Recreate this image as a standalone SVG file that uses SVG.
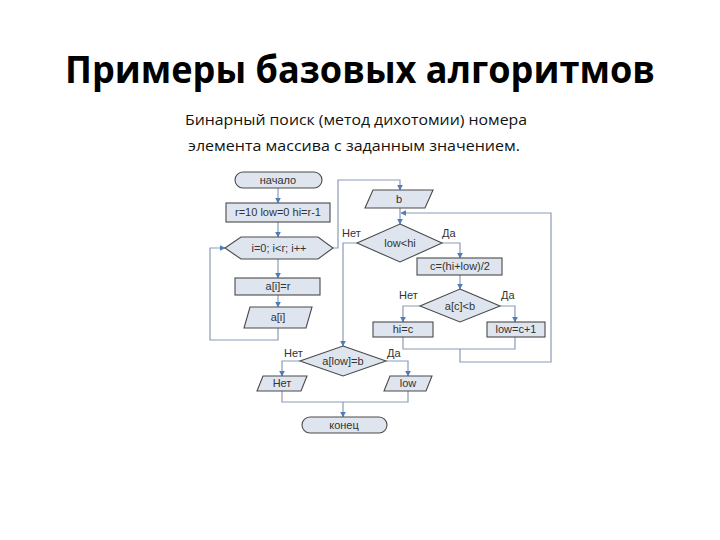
<svg xmlns="http://www.w3.org/2000/svg" width="720" height="540" viewBox="0 0 720 540">
<style>
.title{font-family:"Open Sans","DejaVu Sans",sans-serif;font-weight:bold;font-size:37px;fill:#000}
.sub{font-family:"Open Sans","DejaVu Sans",sans-serif;font-size:15px;fill:#111}
.n{fill:#dfe5ef;stroke:#4a4a4a;stroke-width:1.1}
.t{font-family:"Liberation Sans",Arial,sans-serif;font-size:11px;fill:#333;text-anchor:middle}
.lb{font-family:"Liberation Sans",Arial,sans-serif;font-size:11px;fill:#333}
.c{fill:none;stroke:#8a9bb8;stroke-width:1.2}
</style>
<defs>
<marker id="a" viewBox="0 0 10 10" refX="9" refY="5" markerWidth="6" markerHeight="6" orient="auto" markerUnits="userSpaceOnUse">
<path d="M0,0 L10,5 L0,10 z" fill="#4f7cbd"/>
</marker>
</defs>
<rect width="720" height="540" fill="#fff"/>
<text class="title" x="360" y="83" text-anchor="middle" textLength="590" lengthAdjust="spacingAndGlyphs">Примеры базовых алгоритмов</text>
<text class="sub" x="185" y="125" textLength="342" lengthAdjust="spacingAndGlyphs">Бинарный поиск (метод дихотомии) номера</text>
<text class="sub" x="188" y="151" textLength="332" lengthAdjust="spacingAndGlyphs">элемента массива с заданным значением.</text>

<g id="connectors">
<path class="c" d="M278,188 V203" marker-end="url(#a)"/>
<path class="c" d="M278,222 V237" marker-end="url(#a)"/>
<path class="c" d="M278,259 V278" marker-end="url(#a)"/>
<path class="c" d="M278,295 V307" marker-end="url(#a)"/>
<path class="c" d="M278,328 V340 H210 V248 H225" marker-end="url(#a)"/>
<path class="c" d="M333,248 H338 V180 H400 V190" marker-end="url(#a)"/>
<path class="c" d="M400,208 V224" marker-end="url(#a)"/>
<path class="c" d="M442,243 H460 V258" marker-end="url(#a)"/>
<path class="c" d="M357,243 H343 V346" marker-end="url(#a)"/>
<path class="c" d="M460,275 V289" marker-end="url(#a)"/>
<path class="c" d="M420,306 H403 V322" marker-end="url(#a)"/>
<path class="c" d="M500,306 H515 V322" marker-end="url(#a)"/>
<path class="c" d="M403,337 V349 H515 V337"/>
<path class="c" d="M460,349 V362 H551 V213 H401" marker-end="url(#a)"/>
<path class="c" d="M300,361 H282 V376" marker-end="url(#a)"/>
<path class="c" d="M386,361 H408 V376" marker-end="url(#a)"/>
<path class="c" d="M282,391 V402 H408 V391"/>
<path class="c" d="M343,402 V417" marker-end="url(#a)"/>
</g>

<g id="start"><rect class="n" x="235" y="172" width="87" height="16" rx="8"/><text class="t" x="278" y="184">начало</text></g>
<g id="init"><rect class="n" x="226" y="203" width="104" height="19"/><text class="t" x="278" y="216">r=10 low=0 hi=r-1</text></g>
<g id="loop"><polygon class="n" points="225,248 241,237 318,237 333,248 318,259 241,259"/><text class="t" x="279" y="252">i=0; i&lt;r; i++</text></g>
<g id="assign"><rect class="n" x="235" y="278" width="85" height="17"/><text class="t" x="278" y="290">a[i]=r</text></g>
<g id="out-ai"><polygon class="n" points="250,307 312,307 306,328 244,328"/><text class="t" x="278" y="321">a[i]</text></g>
<g id="in-b"><polygon class="n" points="373,190 433,190 425,208 365,208"/><text class="t" x="399" y="203">b</text></g>
<g id="cond1"><polygon class="n" points="400,224 442,243 400,262 357,243"/><text class="t" x="400" y="247">low&lt;hi</text></g>
<text class="lb" x="342" y="237">Нет</text>
<text class="lb" x="442" y="237">Да</text>
<g id="mid"><rect class="n" x="417" y="258" width="85" height="17"/><text class="t" x="460" y="270">c=(hi+low)/2</text></g>
<g id="cond2"><polygon class="n" points="460,289 500,306 460,322 420,306"/><text class="t" x="460" y="310">a[c]&lt;b</text></g>
<text class="lb" x="399" y="299">Нет</text>
<text class="lb" x="501" y="299">Да</text>
<g id="hi"><rect class="n" x="373" y="322" width="60" height="15"/><text class="t" x="403" y="333">hi=c</text></g>
<g id="low"><rect class="n" x="487" y="322" width="58" height="15"/><text class="t" x="516" y="333">low=c+1</text></g>
<g id="cond3"><polygon class="n" points="343,346 386,361 343,376 300,361"/><text class="t" x="343" y="365">a[low]=b</text></g>
<text class="lb" x="284" y="357">Нет</text>
<text class="lb" x="387" y="357">Да</text>
<g id="out-no"><polygon class="n" points="263,376 307,376 301,391 257,391"/><text class="t" x="282" y="387">Нет</text></g>
<g id="out-low"><polygon class="n" points="390,376 432,376 426,391 384,391"/><text class="t" x="408" y="387">low</text></g>
<g id="end"><rect class="n" x="302" y="417" width="85" height="16" rx="8"/><text class="t" x="344" y="429">конец</text></g>
</svg>
